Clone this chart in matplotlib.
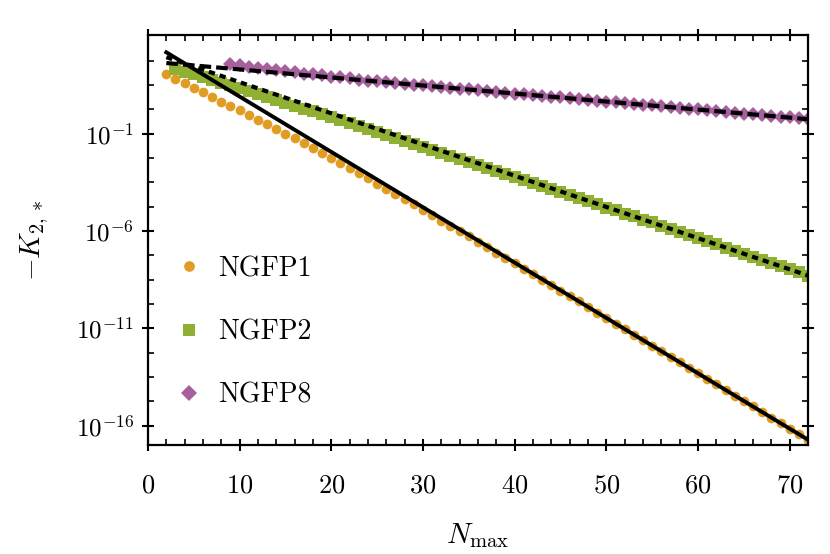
import numpy as np
import matplotlib
matplotlib.use('Agg')
import matplotlib.pyplot as plt
from matplotlib.ticker import FixedLocator, MultipleLocator, LogFormatterMathtext

matplotlib.rcParams.update({'font.family': 'serif',
                            'font.serif': ['cmr10'],
                            'mathtext.fontset': 'cm',
                            'axes.formatter.use_mathtext': True,
                            'font.size': 16})

# data: log10(-K_{2,*}) against N_max
n1 = np.arange(2, 73)
ngfp1_log = [2.10, 1.81, 1.59, 1.36, 1.14, 0.90, 0.66, 0.44, 0.20, -0.04,
             -0.28, -0.52, -0.76, -1.00, -1.24, -1.48, -1.73, -1.98, -2.23,
             -2.49, -2.75, -3.03, -3.29, -3.56, -3.83, -4.09, -4.37, -4.63,
             -4.91, -5.18, -5.46, -5.73, -6.00, -6.27, -6.55, -6.82, -7.11,
             -7.38, -7.65, -7.94, -8.21, -8.50, -8.77, -9.06, -9.34, -9.62,
             -9.90, -10.19, -10.47, -10.76, -11.04, -11.32, -11.61, -11.89,
             -12.18, -12.46, -12.75, -13.03, -13.32, -13.60, -13.89, -14.17,
             -14.46, -14.74, -15.02, -15.31, -15.59, -15.88, -16.16, -16.45,
             -16.73]

n2 = np.arange(3, 73)
ngfp2_log = [2.32, 2.18, 2.05, 1.91, 1.77, 1.63, 1.49, 1.35, 1.20, 1.05,
             0.90, 0.75, 0.60, 0.45, 0.30, 0.15, 0.00, -0.15, -0.30, -0.45,
             -0.60, -0.75, -0.91, -1.06, -1.21, -1.36, -1.51, -1.66, -1.81,
             -1.97, -2.12, -2.28, -2.43, -2.59, -2.74, -2.90, -3.05, -3.21,
             -3.37, -3.52, -3.68, -3.84, -4.00, -4.16, -4.31, -4.47, -4.63,
             -4.79, -4.94, -5.10, -5.25, -5.41, -5.56, -5.72, -5.89, -6.05,
             -6.21, -6.37, -6.53, -6.69, -6.85, -7.01, -7.17, -7.33, -7.49,
             -7.65, -7.81, -7.97, -8.13, -8.29]

n8 = np.arange(9, 73)
ngfp8_log = [2.58, 2.53, 2.44, 2.39, 2.32, 2.27, 2.22, 2.17, 2.10, 2.05,
             2.00, 1.93, 1.90, 1.85, 1.79, 1.74, 1.69, 1.66, 1.61, 1.57,
             1.53, 1.49, 1.45, 1.40, 1.36, 1.32, 1.28, 1.24, 1.20, 1.16,
             1.12, 1.07, 1.03, 0.99, 0.95, 0.91, 0.87, 0.83, 0.79, 0.74,
             0.70, 0.66, 0.62, 0.58, 0.54, 0.50, 0.46, 0.42, 0.37, 0.33,
             0.29, 0.25, 0.21, 0.17, 0.13, 0.09, 0.04, 0.00, -0.04, -0.08,
             -0.12, -0.16, -0.20, -0.25]

# exponential fits, end points only (straight lines on the log axis)
fit_n = [2, 72]
fit1_log = [3.19, -16.73]
fit2_log = [2.94, -8.29]
fit8_log = [2.64, -0.25]

c1, c2, c8 = '#E19C24', '#8FB032', '#A5609D'

fig = plt.figure(figsize=(8.3, 5.54), dpi=100)
ax = fig.add_axes([0.1783, 0.1968, 0.7952, 0.74])

ax.plot(n1, 10**np.array(ngfp1_log), 'o', color=c1, ms=7, mew=0, label='NGFP1')
ax.plot(n2, 10**np.array(ngfp2_log), 's', color=c2, ms=8.5, mew=0, label='NGFP2')
ax.plot(n8, 10**np.array(ngfp8_log), 'D', color=c8, ms=7.2, mew=0, label='NGFP8')

ax.plot(fit_n, 10**np.array(fit1_log), '-', color='k', lw=2.8)
ax.plot(fit_n, 10**np.array(fit2_log), '--', color='k', lw=3.0, dashes=(1.5, 1.2))
ax.plot(fit_n, 10**np.array(fit8_log), '--', color='k', lw=3.0, dashes=(2.8, 1.2))

ax.set_yscale('log')
ax.set_xlim(0, 72)
ax.set_ylim(1e-17, 10**4.08)

ax.xaxis.set_major_locator(MultipleLocator(10))
ax.xaxis.set_minor_locator(MultipleLocator(2))
ax.yaxis.set_major_locator(FixedLocator([1e-16, 1e-11, 1e-6, 1e-1]))
ax.yaxis.set_major_formatter(LogFormatterMathtext())
minor_exp = [-16 + 1.25 * k for k in range(-1, 17) if k % 4 != 0]
ax.yaxis.set_minor_locator(FixedLocator([10**e for e in minor_exp]))

for s in ax.spines.values():
    s.set_linewidth(1.6)
ax.tick_params(which='major', direction='inout', length=8, width=1.5,
               top=True, right=True, labelsize=18, pad=6)
ax.tick_params(which='minor', direction='in', length=4, width=1.2,
               top=True, right=True)
ax.tick_params(axis='x', which='major', labelsize=19, pad=17)

ax.set_xlabel(r'$N_{\max}$', fontsize=21, labelpad=17)
ax.set_ylabel(r'$-K_{2,*}$', fontsize=21, labelpad=18)

ax.legend(loc='center left', bbox_to_anchor=(0.02, 0.275), frameon=False,
          fontsize=20, borderpad=0, handlelength=1.0, handletextpad=0.55,
          labelspacing=1.33, markerscale=1.1)

plt.savefig('out.png', dpi=100)
